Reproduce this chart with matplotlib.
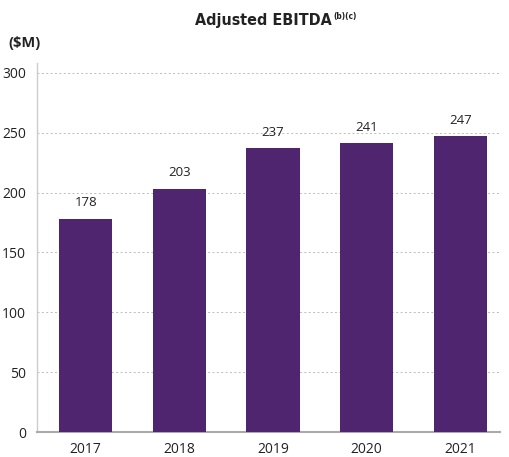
import numpy as np
import matplotlib.pyplot as plt

years = ['2017', '2018', '2019', '2020', '2021']
ebitda = [178, 203, 237, 241, 247]

plt.rcParams['font.family'] = ['Open Sans', 'DejaVu Sans']

fig = plt.figure(figsize=(5.09, 4.57), dpi=100)
ax = fig.add_axes([0.0727, 0.0547, 0.909, 0.807])

x = np.arange(len(years))
ax.bar(x, ebitda, width=0.57, color='#4f2570', zorder=3)
for xi, v in zip(x, ebitda):
    ax.text(xi, v + 8, str(v), ha='center', va='bottom', fontsize=9.5, color='#222222')

ax.set_xlim(-0.52, 4.42)
ax.set_ylim(0, 308)
ax.set_yticks(range(0, 301, 50))
ax.set_xticks(x)
ax.set_xticklabels(years)
ax.yaxis.grid(True, linestyle=(0, (2, 2.5)), color='#bbbbbb', linewidth=0.7, zorder=0)
ax.tick_params(axis='both', length=0, labelsize=10, colors='#222222')
ax.tick_params(axis='y', pad=8)
ax.tick_params(axis='x', pad=7)
for s in ['top', 'right']:
    ax.spines[s].set_visible(False)
ax.spines['left'].set_color('#cccccc')
ax.spines['left'].set_linewidth(1)
ax.spines['bottom'].set_color('#aaaaaa')
ax.spines['bottom'].set_linewidth(1.5)

fig.text(0.517, 0.955, 'Adjusted EBITDA', ha='center', va='center', fontsize=11.5,
         fontweight='bold', fontstretch='condensed', family='DejaVu Sans', color='#222222')
fig.text(0.654, 0.964, '(b)(c)', ha='left', va='center', fontsize=6,
         fontweight='bold', fontstretch='condensed', family='DejaVu Sans', color='#222222')
fig.text(0.016, 0.905, '($M)', ha='left', va='center', fontsize=10.5,
         fontweight='bold', color='#222222')

fig.savefig('out.png', dpi=100)
